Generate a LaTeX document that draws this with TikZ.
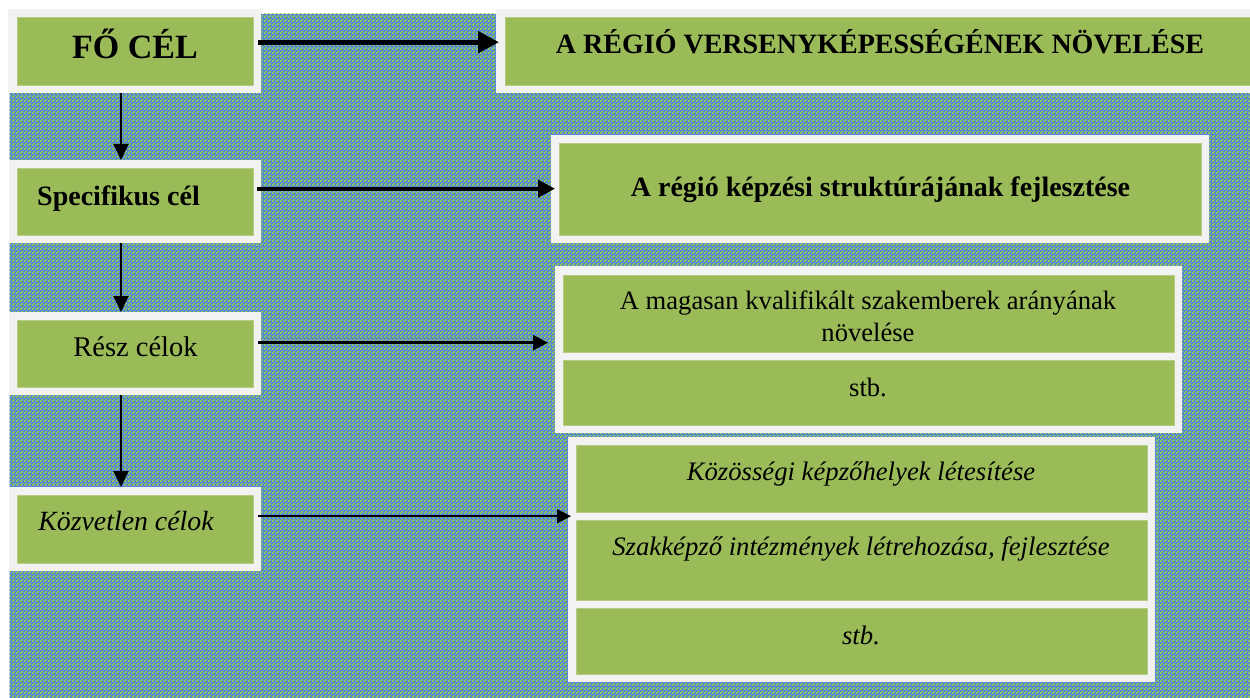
\documentclass[tikz,border=0pt]{standalone}
\usepackage{fontspec}
\setmainfont{Liberation Serif}
\usetikzlibrary{arrows.meta,patterns,positioning}
\definecolor{bgblue}{RGB}{84,134,214}
\definecolor{bggreen}{RGB}{158,212,70}
\definecolor{frame}{RGB}{242,242,242}
\definecolor{leaf}{RGB}{155,187,89}
\definecolor{leafline}{RGB}{180,205,130}
\pgfdeclarepatternformonly{checkpat}{\pgfqpoint{0pt}{0pt}}{\pgfqpoint{4pt}{4pt}}{\pgfqpoint{4pt}{4pt}}{%
  \pgfpathrectangle{\pgfqpoint{0pt}{0pt}}{\pgfqpoint{2pt}{2pt}}%
  \pgfpathrectangle{\pgfqpoint{2pt}{2pt}}{\pgfqpoint{2pt}{2pt}}%
  \pgfusepath{fill}}
\begin{document}
\begin{tikzpicture}[x=1pt,y=-1pt,
  outerbox/.style={fill=frame,draw=none,inner sep=0pt,anchor=north west},
  innerbox/.style={fill=leaf,draw=leafline,line width=0.6pt},
  txt/.style={anchor=base,inner sep=0pt,text=black},
  conn/.style={-{Triangle[length=#1,width=#1]}},
  vconn/.style={line width=2pt,-{Triangle[length=16pt,width=15pt]}}]
\useasboundingbox (0,0) rectangle (1250,698);
\fill[white] (0,0) rectangle (1250,698);
\fill[bgblue] (10,14) rectangle (1250,698);
\fill[pattern=checkpat,pattern color=bggreen] (10,14) rectangle (1250,698);
\draw[color=bgblue!40,line width=1pt] (9.5,90) -- (9.5,698);
% left column boxes
\node[outerbox,minimum width=253pt,minimum height=84pt] (fo) at (8,9) {};
\fill[innerbox] (17,17) rectangle (253,85);
\node[outerbox,minimum width=252pt,minimum height=83pt] (spec) at (9,160) {};
\fill[innerbox] (17,168) rectangle (253,235);
\node[outerbox,minimum width=252pt,minimum height=83pt] (resz) at (9,312) {};
\fill[innerbox] (17,320) rectangle (253,387);
\node[outerbox,minimum width=252pt,minimum height=84pt] (kozv) at (9,487) {};
\fill[innerbox] (17,495) rectangle (253,563);
% right column boxes
\node[outerbox,minimum width=770pt,minimum height=84pt] (main) at (496,9) {};
\fill[innerbox] (505,17) rectangle (1262,85);
\node[outerbox,minimum width=658pt,minimum height=108pt] (reg) at (551,135) {};
\fill[innerbox] (559,143) rectangle (1201,235);
\node[outerbox,minimum width=627pt,minimum height=167pt] (g1) at (555,266) {};
\fill[innerbox] (563,275) rectangle (1174,352);
\fill[innerbox] (563,360) rectangle (1174,425);
\node[outerbox,minimum width=587pt,minimum height=245pt] (g2) at (568,437) {};
\fill[innerbox] (576,445) rectangle (1147,512);
\fill[innerbox] (576,520) rectangle (1147,600);
\fill[innerbox] (576,608) rectangle (1147,674);
% texts
\node[txt,font=\fontsize{34}{37}\selectfont\bfseries] (tfo) at (135,59) {FŐ CÉL};
\node[txt,font=\fontsize{28}{31}\selectfont\bfseries] (tmain) at (880,54) {A RÉGIÓ VERSENYKÉPESSÉGÉNEK NÖVELÉSE};
\node[txt,font=\fontsize{28}{31}\selectfont\bfseries] (tspec) at (118.5,205) {Specifikus cél};
\node[txt,font=\fontsize{28}{31}\selectfont\bfseries] (treg) at (880.5,196) {A régió képzési struktúrájának fejlesztése};
\node[txt,font=\fontsize{28.5}{31}\selectfont] (tresz) at (135.5,356) {Rész célok};
\node[txt,font=\fontsize{26.6}{29}\selectfont] (tm1) at (868,309) {A magasan kvalifikált szakemberek arányának};
\node[txt,font=\fontsize{26.6}{29}\selectfont] (tm2) at (868,341) {növelése};
\node[txt,font=\fontsize{26.6}{29}\selectfont] (tstb1) at (868,396) {stb.};
\node[txt,font=\fontsize{27.8}{30}\selectfont\itshape] (tkozv) at (126,530) {Közvetlen célok};
\node[txt,font=\fontsize{26.7}{29}\selectfont\itshape] (tk1) at (861,480) {Közösségi képzőhelyek létesítése};
\node[txt,font=\fontsize{26.7}{29}\selectfont\itshape] (tk2) at (861,555) {Szakképző intézmények létrehozása, fejlesztése};
\node[txt,font=\fontsize{26.7}{29}\selectfont\itshape] (tstb2) at (861,644) {stb.};
% connectors
\draw[line width=5pt,conn=21pt] ([xshift=-3pt,yshift=9pt]fo.east) -- ([xshift=3pt,yshift=9pt]main.west);
\draw[line width=4pt,conn=17pt] ([xshift=-4pt,yshift=13pt]spec.east) -- ([xshift=4pt,yshift=13pt]spec.east -| reg.west);
\draw[line width=2.5pt,conn=15pt] ([xshift=-3pt,yshift=11pt]resz.east) -- ([xshift=-7pt,yshift=11pt]resz.east -| g1.west);
\draw[line width=1.5pt,conn=14pt] ([xshift=-3pt,yshift=13pt]kozv.east) -- ([xshift=3pt,yshift=13pt]kozv.east -| g2.west);
\draw[vconn] (fo.south -| 121,0) -- (spec.north -| 121,0);
\draw[vconn] (spec.south -| 121,0) -- (resz.north -| 121,0);
\draw[vconn] (resz.south -| 121,0) -- (kozv.north -| 121,0);
\end{tikzpicture}
\end{document}
